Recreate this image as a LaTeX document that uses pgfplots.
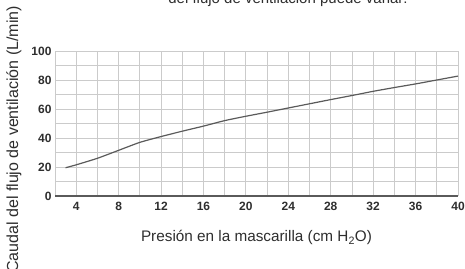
\documentclass[border=0pt]{standalone}
\usepackage{pgfplots}
\pgfplotsset{compat=1.18}
\usepackage{fontspec}
\setmainfont{Liberation Sans}
\definecolor{gridc}{HTML}{CBCBCB}
\definecolor{txt}{HTML}{2E2E2E}
\definecolor{linec}{HTML}{5A5A5A}
\begin{document}
\begin{tikzpicture}
\path[use as bounding box] (0,0) rectangle (465pt,268pt);
\node[anchor=base, text=txt, font=\fontsize{15}{17}\selectfont] at (288pt,264.5pt) {del flujo de ventilación puede variar:};
\begin{axis}[
  at={(55pt,72pt)}, anchor=south west,
  scale only axis, width=403pt, height=145pt,
  xmin=2, xmax=40, ymin=0, ymax=100,
  xtick={4,8,...,40}, minor xtick={2,6,...,38},
  ytick={0,20,...,100}, minor ytick={10,30,...,90},
  grid=both,
  major grid style={gridc, line width=0.8pt},
  minor grid style={gridc, line width=0.8pt},
  axis line style={draw=none},
  tick style={draw=none},
  ticklabel style={font=\fontsize{12}{14}\selectfont\bfseries, text=txt},
  /pgf/number format/assume math mode=true,
  xticklabel style={yshift=-3pt},
  xlabel={Presión en la mascarilla (cm H\textsubscript{2}O)},
  ylabel={Caudal del flujo de ventilación (L/min)},
  label style={font=\fontsize{15.3}{17}\selectfont, text=txt},
  xlabel style={at={(rel axis cs:0.5,-0.317)}, anchor=base},
  ylabel style={at={(rel axis cs:-0.1017,0.39)}, anchor=center, rotate=0, font=\fontsize{16}{18}\selectfont},
  clip=false,
]
\draw[linec, line width=1.1pt] (axis cs:2,0) -- (axis cs:40,0);
\addplot[linec, line width=1.2pt, smooth, tension=0.3] coordinates {
(3,19.5) (4,21.5) (6,26) (8,31.5) (10,37) (12,41) (14,44.7) (16,48.2)
(18,52) (20,55) (22,57.8) (24,60.7) (26,63.6) (28,66.5) (30,69.3)
(32,72.2) (34,74.8) (36,77.3) (38,80) (40,82.7)
};
\end{axis}
\end{tikzpicture}
\end{document}
